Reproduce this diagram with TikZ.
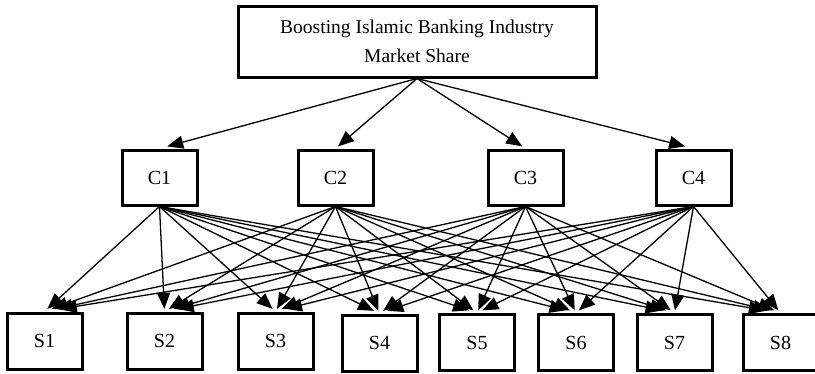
\documentclass[tikz,border=0pt]{standalone}
\usepackage{fontspec}
\setmainfont{Liberation Serif}
\usetikzlibrary{arrows.meta,calc}

\tikzset{
  goalbox/.style={draw, line width=3pt, minimum width=358pt, minimum height=71pt,
    inner sep=0pt, align=center, font=\fontsize{19.5}{29}\selectfont},
  critbox/.style={draw, line width=3pt, minimum width=75pt, minimum height=55pt,
    inner sep=0pt, font=\fontsize{20}{24}\selectfont},
  stratbox/.style={draw, line width=3pt, minimum width=75pt, minimum height=56pt,
    inner sep=0pt, font=\fontsize{20}{24}\selectfont},
  link/.style={line width=1.3pt, -{Triangle[length=16pt,width=13pt]}}
}

\begin{document}
\begin{tikzpicture}[x=1pt,y=-1pt]
\useasboundingbox (0,0) rectangle (815,373);

% goal
\node[goalbox] (goal) at (417,41.5) {Boosting Islamic Banking Industry\\Market Share};

% criteria
\node[critbox] (c1) at (159.5,177.5) {C1};
\node[critbox] (c2) at (335.5,177.5) {C2};
\node[critbox] (c3) at (525.5,177.5) {C3};
\node[critbox] (c4) at (693.5,177.5) {C4};

% strategies
\node[stratbox] (s1) at (44.5,341) {S1};
\node[stratbox] (s2) at (164.5,341) {S2};
\node[stratbox] (s3) at (275.5,341) {S3};
\node[stratbox] (s4) at (379.5,343) {S4};
\node[stratbox] (s5) at (477,342.5) {S5};
\node[stratbox] (s6) at (576,342.5) {S6};
\node[stratbox] (s7) at (674.5,342.5) {S7};
\node[stratbox] (s8) at (780.5,342.5) {S8};

% goal to criteria
\foreach \c in {c1,c2,c3,c4}
  \draw[link] (goal.south) -- ($(\c.north)!0.03!(goal.south)$);

% criteria to strategies
\foreach \c in {c1,c2,c3,c4}
  \foreach \s in {s1,s2,s3,s4,s5,s6,s7,s8}
    \draw[link] (\c.south) -- ($(\s.north)!0.025!(\c.south)$);
\end{tikzpicture}
\end{document}
